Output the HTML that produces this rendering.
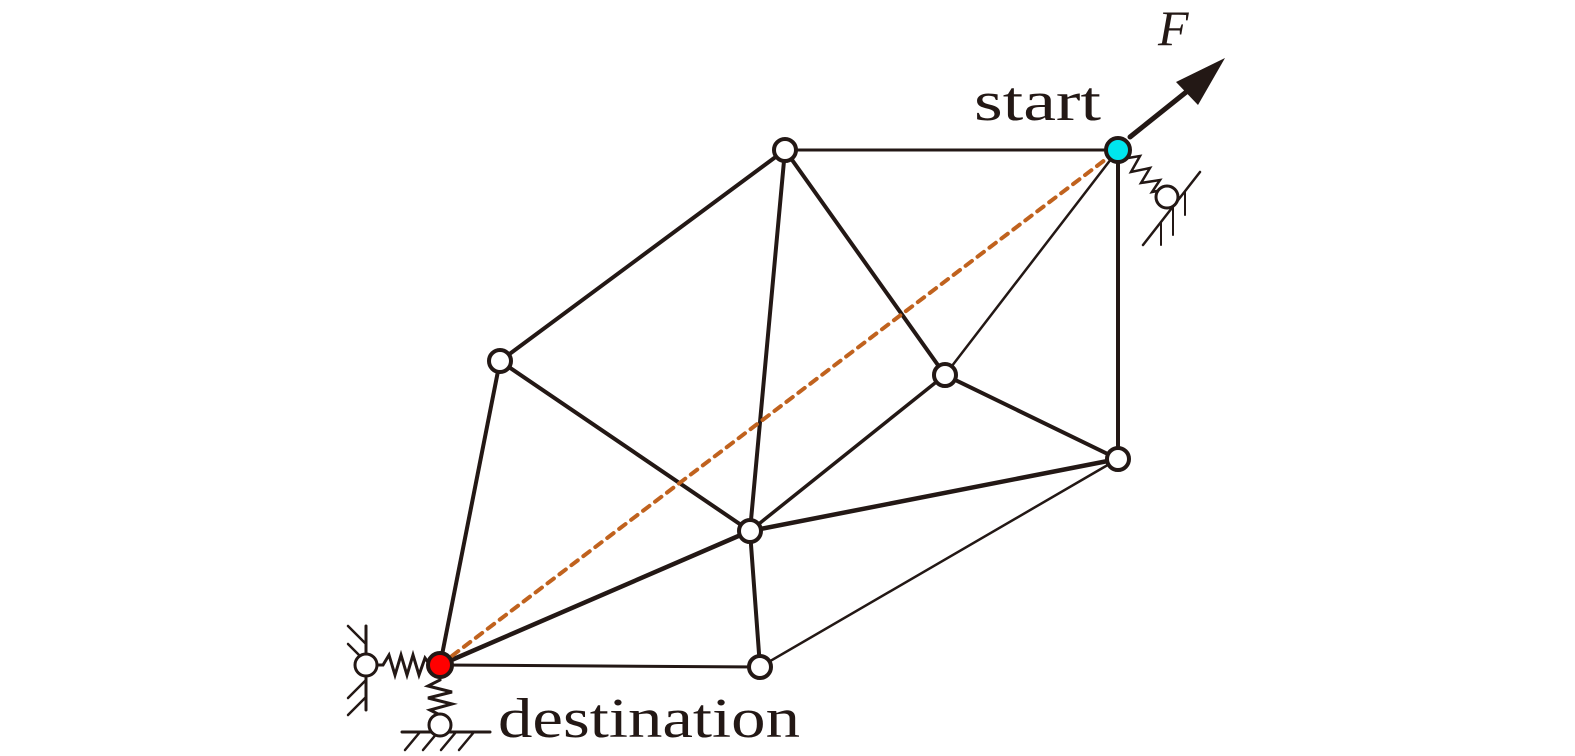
<!DOCTYPE html>
<html><head><style>body{margin:0;background:#fff}svg{display:block}</style></head><body>
<svg width="1575" height="756" xmlns="http://www.w3.org/2000/svg">
<g stroke="#231815" stroke-linecap="round" fill="none">
<line x1="785" y1="150" x2="1118" y2="150" stroke-width="3"/>
<line x1="785" y1="150" x2="500" y2="361" stroke-width="4"/>
<line x1="785" y1="150" x2="750" y2="531" stroke-width="4"/>
<line x1="785" y1="150" x2="945" y2="375" stroke-width="4"/>
<line x1="1118" y1="150" x2="945" y2="375" stroke-width="2.5"/>
<line x1="1118" y1="150" x2="1118" y2="459" stroke-width="4"/>
<line x1="500" y1="361" x2="440" y2="665" stroke-width="4"/>
<line x1="500" y1="361" x2="750" y2="531" stroke-width="4"/>
<line x1="945" y1="375" x2="750" y2="531" stroke-width="3.5"/>
<line x1="945" y1="375" x2="1118" y2="459" stroke-width="4"/>
<line x1="1118" y1="459" x2="750" y2="531" stroke-width="4.5"/>
<line x1="1118" y1="459" x2="760" y2="667" stroke-width="2.5"/>
<line x1="750" y1="531" x2="440" y2="665" stroke-width="4.5"/>
<line x1="750" y1="531" x2="760" y2="667" stroke-width="4"/>
<line x1="440" y1="665" x2="760" y2="667" stroke-width="3"/>
<line x1="440" y1="665" x2="1118" y2="150" stroke="#c0621e" stroke-width="4" stroke-dasharray="8,7"/>
<line x1="1130" y1="137" x2="1195" y2="85" stroke-width="5"/>
<polygon points="1225,58 1176,82 1198,105" fill="#231815" stroke="none"/>
<polyline points="1128,158 1140,156 1131,172 1150,168 1141,183 1160,180 1152,192 1162,190" stroke-width="2.5"/>
<line x1="1143" y1="245" x2="1200" y2="172" stroke-width="2.5"/>
<line x1="1161" y1="222" x2="1161" y2="245" stroke-width="2"/>
<line x1="1173" y1="207" x2="1173" y2="235" stroke-width="2"/>
<line x1="1185" y1="192" x2="1185" y2="215" stroke-width="2"/>
<circle cx="1167" cy="197" r="11" fill="#fff" stroke-width="3"/>
<polyline points="375,665 383,665 389,655 395,675 401,655 407,675 413,655 419,675 425,658 430,665" stroke-width="3"/>
<line x1="366" y1="626" x2="366" y2="710" stroke-width="3"/>
<line x1="366" y1="644" x2="348" y2="626" stroke-width="2.5"/>
<line x1="366" y1="662" x2="348" y2="644" stroke-width="2.5"/>
<line x1="366" y1="680" x2="348" y2="698" stroke-width="2.5"/>
<line x1="366" y1="697" x2="348" y2="715" stroke-width="2.5"/>
<circle cx="366" cy="665" r="11" fill="#fff" stroke-width="3"/>
<polyline points="440,675 440,680 428,686 452,692 428,698 452,704 430,710 440,715" stroke-width="3"/>
<line x1="402" y1="732" x2="490" y2="732" stroke-width="3"/>
<line x1="420" y1="732" x2="405" y2="750" stroke-width="2.5"/>
<line x1="438" y1="732" x2="423" y2="750" stroke-width="2.5"/>
<line x1="456" y1="732" x2="441" y2="750" stroke-width="2.5"/>
<line x1="474" y1="732" x2="459" y2="750" stroke-width="2.5"/>
<circle cx="440" cy="725" r="11" fill="#fff" stroke-width="3"/>
<g fill="#fff" stroke-width="4">
<circle cx="785" cy="150" r="11"/>
<circle cx="500" cy="361" r="11"/>
<circle cx="945" cy="375" r="11"/>
<circle cx="1118" cy="459" r="11"/>
<circle cx="750" cy="531" r="11"/>
<circle cx="760" cy="667" r="11"/>
</g>
<circle cx="1118" cy="150" r="12" fill="#00e5ee" stroke-width="4"/>
<circle cx="440" cy="665" r="12" fill="#f00" stroke-width="4"/>
</g>
<g font-family="Liberation Serif, serif" fill="#231815">
<text x="974" y="120" font-size="56" textLength="127" lengthAdjust="spacingAndGlyphs">start</text>
<text x="1158" y="45" font-size="50" font-style="italic">F</text>
<text x="498" y="737" font-size="56" textLength="302" lengthAdjust="spacingAndGlyphs">destination</text>
</g>
</svg>
</body></html>
